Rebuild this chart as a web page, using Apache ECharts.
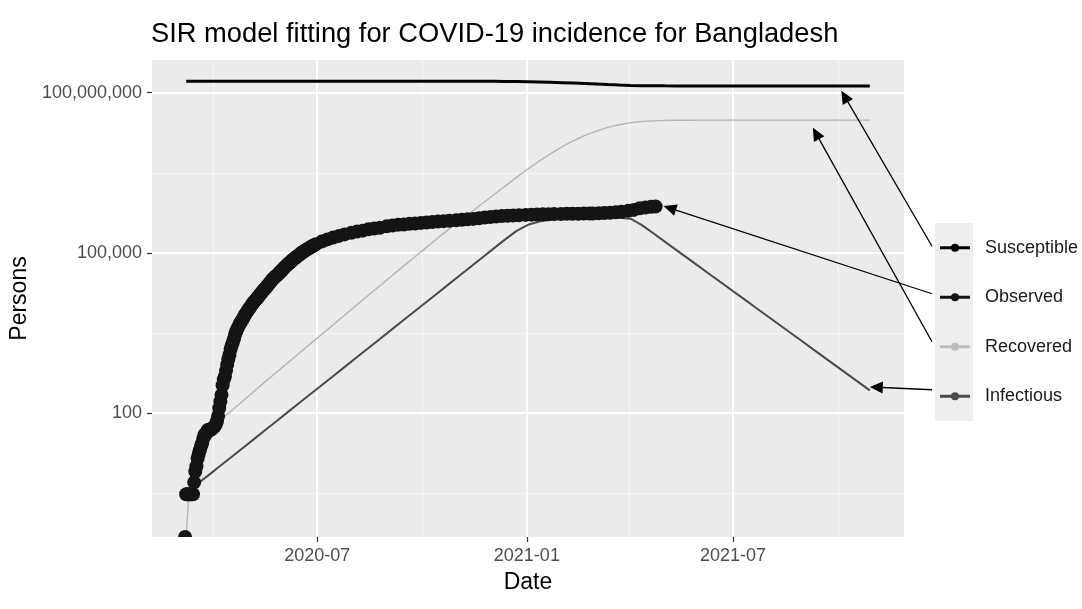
<!DOCTYPE html>
<html>
<head>
<meta charset="utf-8">
<title>SIR model fitting for COVID-19 incidence for Bangladesh</title>
<script src="https://cdn.jsdelivr.net/npm/echarts@6/dist/echarts.min.js"></script>
<style>
  html, body { margin: 0; padding: 0; background: #ffffff; }
  #chart { width: 1082px; height: 609px; }
</style>
</head>
<body>
<div id="chart"></div>
<script>
// Model day 0 is 2020-03-08 (first reported cases); all day offsets count from it.
const startYear = 2020, startMonth = 2, startDay = 8;

// Fitted SIR compartments, sampled along the 600-day model run.
const modelDay = [0, 1, 2, 5,
  10, 20, 30, 40, 50, 60, 70, 80, 90, 100,
  110, 120, 130, 140, 150, 160, 170, 180, 190, 200,
  210, 220, 230, 240, 250, 260, 270, 280, 290, 300,
  310, 320, 330, 340, 350, 360, 370, 380, 390, 400,
  410, 420, 430, 440, 450, 460, 470, 480, 490, 500,
  510, 520, 530, 540, 550, 560, 570, 580, 590, 600];

const susceptible = [164689000, 164689000, 164689000, 164689000,
  164689000, 164689000, 164689000, 164689000, 164689000, 164689000, 164689000, 164689000, 164688000, 164688000,
  164687000, 164686000, 164684000, 164682000, 164678000, 164672000, 164663000, 164649000, 164630000, 164600000,
  164555000, 164489000, 164392000, 164256000, 164057000, 163768000, 163346000, 162733000, 161843000, 160604000,
  159053000, 157034000, 154484000, 151649000, 148381000, 145177000, 141838000, 139113000, 136713000, 135518000,
  134807000, 134397000, 134176000, 134060000, 134034000, 134020000, 134012000, 134008000, 134005000, 134003000,
  134002000, 134001000, 134000000, 133999000, 133998000, 133998000, 133997000, 133997000, 133997000, 133997000];

const infectious = [3, 3.3, 3.4, 3.9,
  4.7, 6.9, 10.2, 15.1, 22.3, 33, 48.8, 72, 107, 158,
  233, 345, 510, 754, 1114, 1647, 2434, 3597, 5316, 7857,
  11610, 17160, 25360, 37480, 55400, 81870, 121000, 178800, 258000, 335000,
  386000, 415000, 435000, 450000, 458000, 462000, 461000, 456000, 436000, 331000,
  232000, 162000, 113500, 79400, 55600, 38900, 27300, 19100, 13400, 9350,
  6550, 4580, 3210, 2250, 1570, 1100, 771, 540, 378, 265];

const recovered = [0, 1.1, 2.2, 6,
  13, 33, 72, 111, 169, 258, 394, 596, 899, 1358,
  2051, 3097, 4677, 7063, 10670, 16140, 24210, 36310, 54450, 81660,
  122500, 183700, 272300, 396300, 576800, 839500, 1222000, 1778000, 2588000, 3750000,
  5250000, 7240000, 9770000, 12590000, 15850000, 19050000, 22390000, 25120000, 27540000, 28840000,
  29650000, 30130000, 30400000, 30550000, 30600000, 30630000, 30650000, 30660000, 30670000, 30675000,
  30680000, 30680000, 30680000, 30680000, 30680000, 30680000, 30680000, 30680000, 30680000, 30680000];

// Observed cumulative confirmed cases (daily to end of June 2020, then every ~5 days).
const observedDay = [-1, 0, 1, 2, 3, 4, 5, 6, 7, 8, 9, 10, 11, 12, 13, 14, 15, 16, 17, 18, 19, 20, 21, 22, 23,
  24, 25, 26, 27, 28, 29, 30, 31, 32, 33, 34, 35, 36, 37, 38, 39, 40, 41, 42, 43, 44, 45, 46, 47, 48, 49, 50, 51, 52, 53,
  54, 55, 56, 57, 58, 59, 60, 61, 62, 63, 64, 65, 66, 67, 68, 69, 70, 71, 72, 73, 74, 75, 76, 77, 78, 79, 80, 81, 82, 83, 84,
  85, 86, 87, 88, 89, 90, 91, 92, 93, 94, 95, 96, 97, 98, 99, 100, 101, 102, 103, 104, 105, 106, 107, 108, 109, 110, 111, 112, 113, 114,
  119, 124, 129, 134, 139, 145, 150, 155, 160, 165, 170, 176, 181, 186, 191, 196, 201, 206,
  211, 216, 221, 226, 231, 237, 242, 247, 252, 257, 262, 267, 272, 277, 282, 287, 292, 298,
  303, 308, 313, 318, 323, 329, 334, 339, 344, 349, 354, 357, 362, 367, 372, 377, 382, 388,
  393, 398, 403, 408, 412];

const observedCases = [0, 3, 3, 3, 3, 3, 3, 3, 5, 8, 10, 14, 17, 20, 24, 27, 33, 39, 39, 44, 48, 48, 48, 49, 51,
  54, 56, 61, 70, 88, 123, 164, 218, 330, 424, 482, 621, 803, 1012, 1231, 1572, 1838, 2144, 2456, 2948,
  3382, 3772, 4186, 4689, 4998, 5416, 5913, 6462, 7103, 7667,
  8238, 8790, 9455, 10143, 10929, 11719, 12425, 13134, 13770, 14657, 15691, 16660, 17822, 18863, 20065,
  20995, 22268, 23870, 25121, 26738, 28511, 30205, 32078, 33610, 35585, 36751, 38292, 40321, 42844, 44608, 47153,
  49534, 52445, 55140, 57563, 60391, 63026, 65769, 68504, 71675, 74865, 78052, 81523, 84379, 87520, 90619,
  94481, 98489, 102292, 105535, 108775, 112306, 115786, 119198, 122660, 126606, 130474, 133978, 137787, 141801, 145483,
  162417, 178443, 193590, 207453, 221178, 237661, 249651, 260507, 276549, 285091, 294598, 312996,
  325157, 334762, 339332, 348918, 355384, 363479, 370132, 377073, 384559, 391990, 397507, 405637,
  416006, 425353, 432333, 445281, 458711, 467225, 479743, 487849, 495841, 500713, 507265, 513510,
  518894, 523302, 526481, 530271, 532896, 535139, 537870, 539531, 541038, 543024, 544843, 546216,
  551175, 555993, 564939, 573687, 588132, 611295, 637364, 684756, 707362, 727780, 739703];

// Axis breaks.
const xTickDates = ['2020-07-01', '2021-01-01', '2021-07-01'];
const xMinorDates = ['2020-04-01', '2020-10-01', '2021-04-01', '2021-10-01'];
const yTickValues = [100, 100000, 100000000];
const yMinorValues = [Math.sqrt(10), Math.sqrt(10) * 1000, Math.sqrt(10) * 1000000];

// Legend entries and the annotation arrows pointing from each key to its curve
// (arrow tips anchored in data space, same order as the legend).
const legendNames = ['Susceptible', 'Observed', 'Recovered', 'Infectious'];
const legendColors = ['#000000', '#141414', '#bdbdbd', '#4a4a4a'];
const arrowTipDay = [575, 419.5, 550, 600.5];
const arrowTipValue = [1.09e8, 7.5e5, 2.21e7, 307];

// ---------------------------------------------------------------------------
const FONT = '"Liberation Sans", Arial, Helvetica, sans-serif';
const Y_LOG_MIN = -0.325, Y_LOG_MAX = 8.613;   // padded log10 range of the panel
const yFloor = Math.pow(10, Y_LOG_MIN);          // zero counts sit on the panel floor (log of 0 is -Inf)

function dayToTime(d) { return new Date(startYear, startMonth, startDay + d).getTime(); }
function dateToTime(s) { const p = s.split('-').map(Number); return new Date(p[0], p[1] - 1, p[2]).getTime(); }
function pairs(days, vals) {
  return days.map((d, i) => [dayToTime(d), vals[i] > 0 ? vals[i] : yFloor]);
}
function withCommas(n) { return String(n).replace(/\B(?=(\d{3})+(?!\d))/g, ','); }
function monthLabel(v) {
  const d = new Date(v);
  return d.getFullYear() + '-' + String(d.getMonth() + 1).padStart(2, '0');
}

const xMin = dayToTime(-30), xMax = dayToTime(630);

const chart = echarts.init(document.getElementById('chart'), null, { renderer: 'canvas' });

const option = {
  animation: false,
  backgroundColor: '#ffffff',
  title: {
    text: 'SIR model fitting for COVID-19 incidence for Bangladesh',
    left: 151, top: 21, padding: 0,
    textStyle: { fontFamily: FONT, fontSize: 27.3, fontWeight: 'normal', color: '#000000' }
  },
  grid: {
    left: 152, right: 178, top: 60, bottom: 72,
    show: true, backgroundColor: '#ebebeb', borderWidth: 0
  },
  xAxis: [
    {
      // time values (ms) on a linear scale
      type: 'value', min: xMin, max: xMax,
      name: 'Date', nameLocation: 'middle', nameGap: 34,
      nameTextStyle: { fontFamily: FONT, fontSize: 23, color: '#000000' },
      axisLine: { show: false, onZero: false },
      axisTick: { show: true, length: 5, lineStyle: { color: '#333333', width: 1.2 },
                  customValues: xTickDates.map(dateToTime) },
      axisLabel: {
        show: true, margin: 10, fontFamily: FONT, fontSize: 18, color: '#4d4d4d',
        customValues: xTickDates.map(dateToTime),
        formatter: monthLabel
      },
      splitLine: { show: true, lineStyle: { color: '#ffffff', width: 2 } }
    },
    {
      type: 'value', min: xMin, max: xMax, position: 'bottom',
      axisLine: { show: false, onZero: false },
      axisTick: { show: false, customValues: xMinorDates.map(dateToTime) },
      axisLabel: { show: false },
      splitLine: { show: true, lineStyle: { color: '#f7f7f7', width: 1 } }
    }
  ],
  yAxis: [
    {
      type: 'log', logBase: 10, min: yFloor, max: Math.pow(10, Y_LOG_MAX), show: false,
      axisLine: { onZero: false }
    },
    {
      type: 'value', min: Y_LOG_MIN, max: Y_LOG_MAX, position: 'left',
      name: 'Persons', nameLocation: 'middle', nameGap: 109, nameRotate: 90,
      nameTextStyle: { fontFamily: FONT, fontSize: 23, color: '#000000' },
      axisLine: { show: false, onZero: false },
      axisTick: { show: true, length: 5, lineStyle: { color: '#333333', width: 1.2 },
                  customValues: yTickValues.map(Math.log10) },
      axisLabel: {
        show: true, margin: 10, fontFamily: FONT, fontSize: 18, color: '#4d4d4d',
        customValues: yTickValues.map(Math.log10),
        formatter: v => withCommas(Math.round(Math.pow(10, v)))
      },
      splitLine: { show: true, lineStyle: { color: '#ffffff', width: 2 } }
    },
    {
      type: 'value', min: Y_LOG_MIN, max: Y_LOG_MAX, position: 'left',
      axisLine: { show: false, onZero: false },
      axisTick: { show: false, customValues: yMinorValues.map(Math.log10) },
      axisLabel: { show: false },
      splitLine: { show: true, lineStyle: { color: '#f7f7f7', width: 1 } }
    }
  ],
  series: [
    {
      name: 'Susceptible', type: 'line', xAxisIndex: 0, yAxisIndex: 0,
      data: pairs(modelDay, susceptible), symbol: 'none', clip: true,
      lineStyle: { color: legendColors[0], width: 3 }, z: 3
    },
    {
      name: 'Recovered', type: 'line', xAxisIndex: 0, yAxisIndex: 0,
      data: pairs(modelDay, recovered), symbol: 'none', clip: true,
      lineStyle: { color: '#b4b4b4', width: 1.4 }, z: 3
    },
    {
      name: 'Infectious', type: 'line', xAxisIndex: 0, yAxisIndex: 0,
      data: pairs(modelDay, infectious), symbol: 'none', clip: true,
      lineStyle: { color: '#4a4a4a', width: 2 }, z: 3
    },
    {
      name: 'Observed', type: 'custom', xAxisIndex: 0, yAxisIndex: 0, clip: true, z: 4,
      data: pairs(observedDay, observedCases),
      encode: { x: 0, y: 1 },
      renderItem: (params, api) => {
        const p = api.coord([api.value(0), api.value(1)]);
        return { type: 'circle', shape: { cx: p[0], cy: p[1], r: 7 }, style: { fill: legendColors[1] } };
      }
    }
  ]
};

chart.setOption(option);

// Legend (key strip, line+point keys, labels) and annotation arrows.
const graphics = [];
const keyX0 = 935, keyX1 = 973, keyTop = 223, keyStep = 49.5;
graphics.push({ type: 'rect', shape: { x: keyX0, y: keyTop, width: keyX1 - keyX0, height: keyStep * legendNames.length },
                style: { fill: '#eeeeee' }, silent: true, z: 50 });
const keyCenters = legendNames.map((_, i) => keyTop + keyStep * (i + 0.5));
legendNames.forEach((name, i) => {
  const cy = keyCenters[i];
  graphics.push({ type: 'line', shape: { x1: 940, y1: cy, x2: 970, y2: cy },
                  style: { stroke: legendColors[i], lineWidth: 3 }, silent: true, z: 51 });
  graphics.push({ type: 'circle', shape: { cx: 955, cy: cy, r: 4 },
                  style: { fill: legendColors[i] }, silent: true, z: 52 });
  graphics.push({ type: 'text', x: 985, y: cy,
                  style: { text: name, fontFamily: FONT, fontSize: 18, fill: '#1a1a1a', verticalAlign: 'middle', align: 'left' },
                  silent: true, z: 52 });
});

function arrow(tail, tip) {
  const dx = tip[0] - tail[0], dy = tip[1] - tail[1];
  const len = Math.hypot(dx, dy);
  const ux = dx / len, uy = dy / len;
  const headLen = 13, headHalf = 6;
  const bx = tip[0] - ux * headLen, by = tip[1] - uy * headLen;
  return [
    { type: 'line', shape: { x1: tail[0], y1: tail[1], x2: bx, y2: by },
      style: { stroke: '#000000', lineWidth: 1.3 }, silent: true, z: 60 },
    { type: 'polygon', shape: { points: [tip, [bx - uy * headHalf, by + ux * headHalf], [bx + uy * headHalf, by - ux * headHalf]] },
      style: { fill: '#000000' }, silent: true, z: 60 }
  ];
}
const tailOffsets = [-1.5, -3.5, -5, -6.5];
legendNames.forEach((name, i) => {
  const tip = chart.convertToPixel({ xAxisIndex: 0, yAxisIndex: 0 }, [dayToTime(arrowTipDay[i]), arrowTipValue[i]]);
  const tail = [932, keyCenters[i] + tailOffsets[i]];
  arrow(tail, tip).forEach(g => graphics.push(g));
});

chart.setOption({ graphic: graphics });
</script>
</body>
</html>
